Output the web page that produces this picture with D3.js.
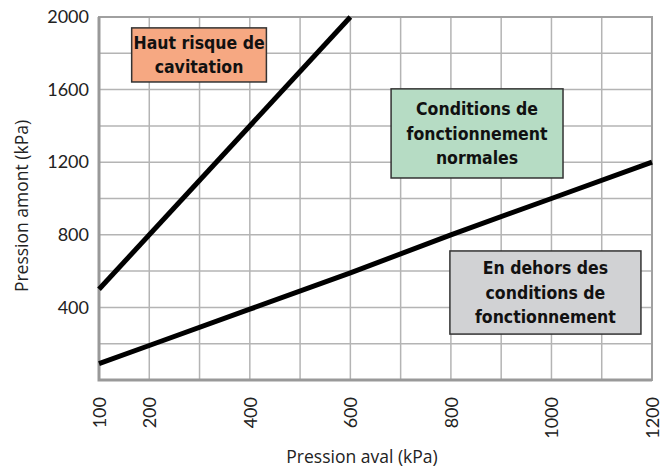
<!DOCTYPE html>
<html>
<head>
<meta charset="utf-8">
<script src="https://cdn.jsdelivr.net/npm/d3@7"></script>
<style>
  body { margin: 0; background: #fff; }
  svg { display: block; }
</style>
</head>
<body>
<div id="chart"></div>
<script>
// Chart data
const cavitationLine = [[100, 500], [600, 2000]];
const limitLine = [[100, 90], [200, 190], [400, 390], [600, 590], [800, 800], [1000, 1000], [1200, 1200]];
const xTickLabels = [100, 200, 400, 600, 800, 1000, 1200];
const yTickLabels = [400, 800, 1200, 1600, 2000];
const xGrid = d3.range(100, 1201, 100);
const yGrid = d3.range(0, 2001, 200);
const zones = [
  { lines: ["Haut risque de", "cavitation"], x: 165, y: 1940, x2: 433, y2: 1642, fill: "#f6a882" },
  { lines: ["Conditions de", "fonctionnement", "normales"], x: 681, y: 1604, x2: 1023, y2: 1113, fill: "#b6dcc4" },
  { lines: ["En dehors des", "conditions de", "fonctionnement"], x: 798, y: 711, x2: 1178, y2: 253, fill: "#d1d2d4" }
];

const margin = { top: 17, right: 16, bottom: 90, left: 99 };
const W = 668, H = 470;
const width = W - margin.left - margin.right;
const height = H - margin.top - margin.bottom;

const svg = d3.select("#chart").append("svg")
    .attr("width", W)
    .attr("height", H)
  .append("g")
    .attr("transform", `translate(${margin.left},${margin.top})`);

const x = d3.scaleLinear().domain([100, 1200]).range([0, width]);
const y = d3.scaleLinear().domain([0, 2000]).range([height, 0]);

// grid
svg.selectAll(".vgrid").data(xGrid).enter().append("line")
    .attr("x1", d => x(d)).attr("x2", d => x(d))
    .attr("y1", 0).attr("y2", height)
    .style("stroke", "#b4b4b4").style("stroke-width", 1.5);
svg.selectAll(".hgrid").data(yGrid).enter().append("line")
    .attr("y1", d => y(d)).attr("y2", d => y(d))
    .attr("x1", 0).attr("x2", width)
    .style("stroke", "#b4b4b4").style("stroke-width", 1.5);

// frame
svg.append("rect")
    .attr("width", width).attr("height", height)
    .style("fill", "none").style("stroke", "#a0a0a0").style("stroke-width", 2);
svg.append("path")
    .attr("d", `M0,0V${height}H${width}`)
    .style("fill", "none").style("stroke", "#999").style("stroke-width", 3);

// axes (labels only)
const font = "Lato, 'Open Sans', sans-serif";
const yAxis = svg.append("g")
    .call(d3.axisLeft(y).tickValues(yTickLabels).tickSize(0).tickPadding(10).tickFormat(d3.format("d")));
yAxis.select(".domain").remove();
yAxis.selectAll("text").style("font-family", font).style("font-size", "18px").style("fill", "#222");

const xAxis = svg.append("g")
    .attr("transform", `translate(0,${height})`)
    .call(d3.axisBottom(x).tickValues(xTickLabels).tickSize(0).tickFormat(d3.format("d")));
xAxis.select(".domain").remove();
xAxis.selectAll("text")
    .attr("transform", "rotate(-90)")
    .attr("x", -17).attr("y", 0).attr("dy", "0.35em")
    .style("text-anchor", "end")
    .style("font-family", font).style("font-size", "18px").style("fill", "#222");

// axis titles
const titleFont = "'Open Sans', Lato, sans-serif";
svg.append("text")
    .attr("x", 263)
    .attr("y", height + 83)
    .style("text-anchor", "middle")
    .style("font-family", titleFont).style("font-size", "17.5px").style("fill", "#222")
    .text("Pression aval (kPa)");
svg.append("text")
    .attr("transform", "rotate(-90)")
    .attr("x", -189)
    .attr("y", -margin.left + 28)
    .style("text-anchor", "middle")
    .style("font-family", titleFont).style("font-size", "17.5px").style("fill", "#222")
    .text("Pression amont (kPa)");

// lines
const line = d3.line().x(d => x(d[0])).y(d => y(d[1]));
[cavitationLine, limitLine].forEach(data => {
  svg.append("path")
      .datum(data)
      .attr("d", line)
      .style("fill", "none").style("stroke", "#000").style("stroke-width", 5);
});

// zone boxes
zones.forEach(z => {
  const g = svg.append("g");
  g.append("rect")
      .attr("x", x(z.x)).attr("y", y(z.y))
      .attr("width", x(z.x2) - x(z.x)).attr("height", y(z.y2) - y(z.y))
      .style("fill", z.fill).style("stroke", "#333").style("stroke-width", 1.5);
  const cx = (x(z.x) + x(z.x2)) / 2;
  const cy = (y(z.y) + y(z.y2)) / 2;
  const lh = 24.5;
  g.selectAll("text").data(z.lines).enter().append("text")
      .attr("x", cx)
      .attr("y", (d, i) => cy + (i - (z.lines.length - 1) / 2) * lh)
      .attr("dy", "0.35em")
      .style("text-anchor", "middle")
      .style("font-family", "'DejaVu Sans Condensed', 'DejaVu Sans', sans-serif")
      .style("font-stretch", "condensed")
      .style("font-weight", "bold").style("font-size", "17.5px").style("fill", "#111")
      .text(d => d);
});
</script>
</body>
</html>
